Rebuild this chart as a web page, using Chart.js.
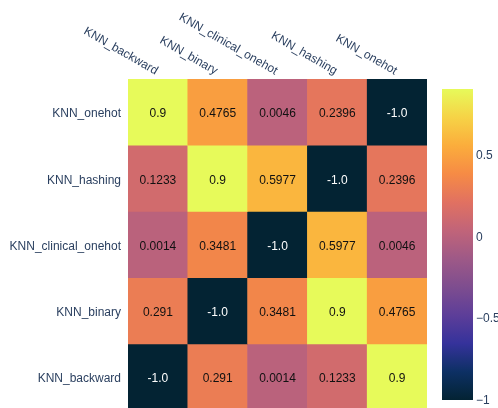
<!DOCTYPE html>
<html>
<head>
<meta charset="utf-8">
<script src="https://cdn.jsdelivr.net/npm/chart.js@4/dist/chart.umd.min.js"></script>
<style>
  html, body { margin: 0; padding: 0; background: #fff; overflow: hidden; }
  #wrap { position: relative; width: 498px; height: 408px; overflow: hidden; }
  #heat { position: absolute; left: 0; top: 0; }
  #bar { position: absolute; left: 430px; top: 80px; }
</style>
</head>
<body>
<div id="wrap">
  <canvas id="heat" width="498" height="411"></canvas>
  <canvas id="bar" width="68" height="328"></canvas>
</div>
<script>
// Column (x) and row (y, top to bottom) model names
const columns = ['KNN_backward', 'KNN_binary', 'KNN_clinical_onehot', 'KNN_hashing', 'KNN_onehot'];
const rows = ['KNN_onehot', 'KNN_hashing', 'KNN_clinical_onehot', 'KNN_binary', 'KNN_backward'];

// Correlation values, one array per row, in column order
const onehotRow   = [0.9, 0.4765, 0.0046, 0.2396, -1.0];
const hashingRow  = [0.1233, 0.9, 0.5977, -1.0, 0.2396];
const clinicalRow = [0.0014, 0.3481, -1.0, 0.5977, 0.0046];
const binaryRow   = [0.291, -1.0, 0.3481, 0.9, 0.4765];
const backwardRow = [-1.0, 0.291, 0.0014, 0.1233, 0.9];
const matrix = [onehotRow, hashingRow, clinicalRow, binaryRow, backwardRow];

// Colour range and colour bar ticks
const zMin = -1;
const zMax = 0.9;
const colorbarTicks = [-1, -0.5, 0, 0.5];

// "thermal" colour scale
const thermal = [
  [3, 35, 51], [13, 48, 100], [53, 50, 155], [93, 62, 153], [126, 77, 143], [158, 89, 135],
  [193, 100, 121], [225, 113, 97], [246, 139, 69], [251, 173, 60], [246, 211, 70], [231, 250, 90]
];

const FONT = '"Liberation Sans", Arial, sans-serif';
const AXIS_COLOR = '#2a3f5f';

function scaleRGB(v) {
  let t = (v - zMin) / (zMax - zMin);
  t = Math.max(0, Math.min(1, t));
  const pos = t * (thermal.length - 1);
  const i = Math.min(Math.floor(pos), thermal.length - 2);
  const f = pos - i;
  const a = thermal[i], b = thermal[i + 1];
  return [0, 1, 2].map(k => Math.round(a[k] + (b[k] - a[k]) * f));
}
function rgbStr(c) { return 'rgb(' + c.join(',') + ')'; }
function formatValue(v) { return Number.isInteger(v) ? v.toFixed(1) : String(v); }

// One floating-bar dataset per row; each cell spans one unit on the y scale
const datasets = rows.map((name, i) => {
  const level = rows.length - 1 - i;
  return {
    label: name,
    data: columns.map((c, j) => ({ x: c, y: [level, level + 1], v: matrix[i][j] })),
    backgroundColor: ctx => rgbStr(scaleRGB(ctx.raw.v)),
    borderWidth: 0,
    grouped: false,
    barPercentage: 1,
    categoryPercentage: 1
  };
});

// Writes each cell's value in its centre and the rotated column names above the grid
const cellLabels = {
  id: 'cellLabels',
  afterDatasetsDraw(chart) {
    const ctx = chart.ctx;
    ctx.save();
    ctx.font = '12px ' + FONT;
    ctx.textAlign = 'center';
    ctx.textBaseline = 'middle';
    chart.data.datasets.forEach((ds, di) => {
      const meta = chart.getDatasetMeta(di);
      meta.data.forEach((el, j) => {
        const v = ds.data[j].v;
        const c = scaleRGB(v);
        const bright = (c[0] * 299 + c[1] * 587 + c[2] * 114) / 1000;
        ctx.fillStyle = bright < 80 ? '#ffffff' : '#111111';
        ctx.fillText(formatValue(v), el.x, (el.y + el.base) / 2 + 2);
      });
    });
    ctx.restore();
  },
  afterDraw(chart) {
    const ctx = chart.ctx;
    const xs = chart.scales.x;
    const top = chart.chartArea.top;
    ctx.save();
    ctx.font = '12px ' + FONT;
    ctx.fillStyle = AXIS_COLOR;
    ctx.textAlign = 'right';
    ctx.textBaseline = 'middle';
    columns.forEach((name, j) => {
      ctx.save();
      ctx.translate(xs.getPixelForValue(j) - 1, top - 7);
      ctx.rotate(Math.PI / 6);
      ctx.fillText(name, 0, 0);
      ctx.restore();
    });
    ctx.restore();
  }
};

new Chart(document.getElementById('heat'), {
  type: 'bar',
  data: { labels: columns, datasets },
  options: {
    responsive: false,
    devicePixelRatio: 1,
    animation: false,
    events: [],
    layout: { padding: { top: 79, right: 71, bottom: 1, left: 0 } },
    plugins: { legend: { display: false }, tooltip: { enabled: false } },
    scales: {
      x: { type: 'category', display: false, offset: true },
      y: {
        type: 'linear',
        min: 0,
        max: rows.length,
        grid: { display: false, drawTicks: false },
        border: { display: false },
        afterBuildTicks(scale) {
          scale.ticks = rows.map((_, i) => ({ value: rows.length - 1 - i + 0.5 }));
        },
        afterFit(scale) {
          scale.width = 128;
          scale.paddingTop = 0;
          scale.paddingBottom = 0;
        },
        ticks: {
          padding: 7,
          labelOffset: 2,
          autoSkip: false,
          color: AXIS_COLOR,
          font: { family: FONT, size: 12 },
          callback: value => rows[rows.length - 1 - Math.floor(value)]
        }
      }
    }
  },
  plugins: [cellLabels]
});

// Colour bar: a single floating bar spanning the colour range, filled with the scale
function colorbarFill(ctx) {
  const area = ctx.chart.chartArea;
  if (!area) return rgbStr(thermal[0]);
  const g = ctx.chart.ctx.createLinearGradient(0, area.bottom, 0, area.top);
  thermal.forEach((c, i) => g.addColorStop(i / (thermal.length - 1), rgbStr(c)));
  return g;
}

new Chart(document.getElementById('bar'), {
  type: 'bar',
  data: {
    labels: ['z'],
    datasets: [{
      data: [[zMin, zMax]],
      backgroundColor: colorbarFill,
      borderWidth: 0,
      barPercentage: 1,
      categoryPercentage: 1
    }]
  },
  options: {
    responsive: false,
    devicePixelRatio: 1,
    animation: false,
    events: [],
    layout: { padding: { top: 9, right: 0, bottom: 8, left: 12 } },
    plugins: { legend: { display: false }, tooltip: { enabled: false } },
    scales: {
      x: { display: false },
      y: {
        position: 'right',
        min: zMin,
        max: zMax,
        grid: { display: false, drawTicks: false },
        border: { display: false },
        afterBuildTicks(scale) {
          scale.ticks = colorbarTicks.map(v => ({ value: v }));
        },
        afterFit(scale) {
          scale.width = 25;
          scale.paddingTop = 0;
          scale.paddingBottom = 0;
        },
        ticks: {
          padding: 3,
          labelOffset: 1,
          color: AXIS_COLOR,
          font: { family: FONT, size: 12 },
          callback: v => (v < 0 ? '\u2212' + Math.abs(v) : String(v))
        }
      }
    }
  }
});
</script>
</body>
</html>
